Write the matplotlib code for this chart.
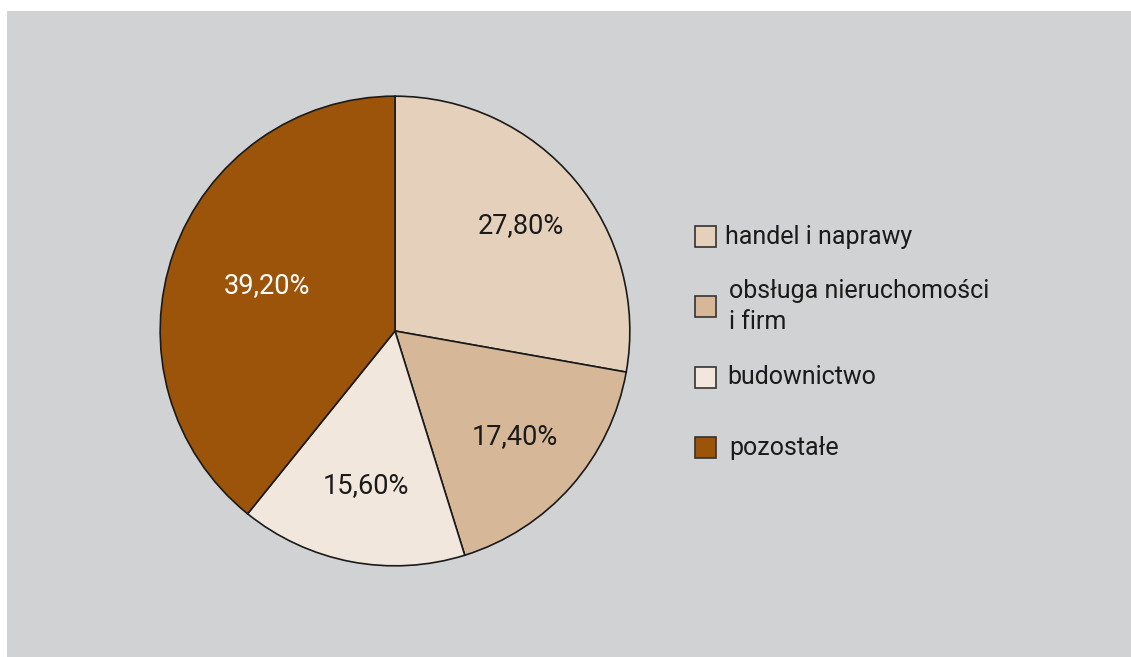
import numpy as np
import matplotlib
matplotlib.use("Agg")
import matplotlib.pyplot as plt
from matplotlib.patches import Rectangle

plt.rcParams['font.family'] = ['Roboto', 'DejaVu Sans']

# Shares of sectors (percent)
categories = ["handel i naprawy", "obsługa nieruchomości\ni firm", "budownictwo", "pozostałe"]
shares = [27.8, 17.4, 15.6, 39.2]
value_labels = ["27,80%", "17,40%", "15,60%", "39,20%"]
colors = ["#e5d1bb", "#d6b899", "#f1e7dd", "#9c540b"]
label_colors = ["#1a1a1a", "#1a1a1a", "#1a1a1a", "#ffffff"]
label_dist = [0.70, 0.68, 0.67, 0.58]

W, H = 1131, 657
fig = plt.figure(figsize=(W / 100, H / 100), dpi=100, facecolor="white")

# grey panel
fig.add_artist(Rectangle((7 / W, 0), 1, (H - 11) / H, transform=fig.transFigure,
                         facecolor="#d1d2d4", edgecolor="none", zorder=0))

cx, cy, r = 395, 331, 236
ax = fig.add_axes([(cx - r) / W, (H - cy - r) / H, 2 * r / W, 2 * r / H])
ax.set_facecolor("none")
wedges, _ = ax.pie(shares, colors=colors, startangle=90, counterclock=False,
                   radius=1.0,
                   wedgeprops=dict(edgecolor="#1a1a1a", linewidth=1.2))
ax.set_xlim(-1.005, 1.005)
ax.set_ylim(-1.005, 1.005)
ax.set_aspect("equal")
ax.axis("off")

for w, txt, c, d in zip(wedges, value_labels, label_colors, label_dist):
    ang = np.deg2rad((w.theta1 + w.theta2) / 2)
    ax.text(d * np.cos(ang), d * np.sin(ang), txt, ha="center", va="center",
            fontsize=19.5, color=c)

# legend
box = 21
legend_y = [237, 306.5, 377.5, 447.5]
text_x = [725, 729, 727, 729]
for name, col, yc, tx in zip(categories, colors, legend_y, text_x):
    fig.add_artist(Rectangle((695 / W, (H - yc - box / 2) / H), box / W, box / H,
                             transform=fig.transFigure, facecolor=col,
                             edgecolor="#333333", linewidth=1.2))
    fig.text(tx / W, (H - yc) / H, name, ha="left", va="center",
             fontsize=18, color="#1a1a1a", linespacing=1.35)

fig.savefig("out.png", dpi=100, facecolor="white")
